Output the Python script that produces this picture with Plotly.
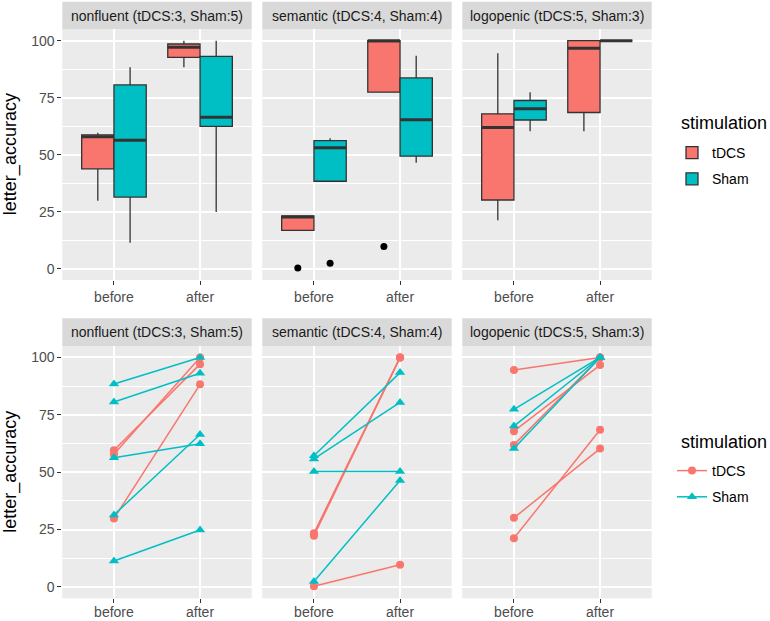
import numpy as np
import plotly.graph_objects as go

# ---------------------------------------------------------------------------
# Data (letter accuracy per patient, before / after stimulation)
# ---------------------------------------------------------------------------
conditions = ["before", "after"]
groups = ["tDCS", "Sham"]
panel_titles = [
    "nonfluent (tDCS:3, Sham:5)",
    "semantic (tDCS:4, Sham:4)",
    "logopenic (tDCS:5, Sham:3)",
]

nonfluent_tdcs_before = [59.6, 57.8, 29.8]
nonfluent_tdcs_after = [97.1, 100.0, 88.3]
nonfluent_sham_before = [88.4, 80.6, 56.3, 31.4, 11.3]
nonfluent_sham_after = [100.0, 93.1, 62.4, 66.4, 24.8]

semantic_tdcs_before = [23.4, 23.0, 22.3, 0.3]
semantic_tdcs_after = [100.0, 100.0, 100.0, 9.7]
semantic_sham_before = [57.2, 55.8, 50.3, 2.4]
semantic_sham_after = [93.4, 80.4, 50.3, 46.4]

logopenic_tdcs_before = [94.5, 67.9, 61.9, 30.1, 21.2]
logopenic_tdcs_after = [100.0, 96.7, 100.0, 60.3, 68.5]
logopenic_sham_before = [77.4, 70.1, 60.3]
logopenic_sham_after = [100.0, 100.0, 100.0]

panels = [
    {"tDCS": (nonfluent_tdcs_before, nonfluent_tdcs_after),
     "Sham": (nonfluent_sham_before, nonfluent_sham_after)},
    {"tDCS": (semantic_tdcs_before, semantic_tdcs_after),
     "Sham": (semantic_sham_before, semantic_sham_after)},
    {"tDCS": (logopenic_tdcs_before, logopenic_tdcs_after),
     "Sham": (logopenic_sham_before, logopenic_sham_after)},
]

COLORS = {"tDCS": "#F8766D", "Sham": "#00BFC4"}
SYMBOLS = {"tDCS": "circle", "Sham": "triangle-up"}
DODGE = {"tDCS": -0.1875, "Sham": 0.1875}
BOX_W = 0.375
FONT = "Liberation Sans, Arial, sans-serif"

W, H = 770, 621
col_px = [(62.3, 251.7), (262.3, 451.7), (462.3, 651.7)]
row_px = [(29.3, 280.0), (346.0, 598.4)]
strip_px = [(1.7, 29.3), (318.3, 346.0)]
legend_title_px = [123, 442]
legend_top_px = [137, 455]


def box_stats(vals):
    """ggplot-style (type 7) box statistics, whiskers clipped to the box."""
    v = np.asarray(vals, dtype=float)
    q1, med, q3 = np.percentile(v, [25, 50, 75])
    iqr = q3 - q1
    lo_f, hi_f = q1 - 1.5 * iqr, q3 + 1.5 * iqr
    inside = v[(v >= lo_f) & (v <= hi_f)]
    out = v[(v < lo_f) | (v > hi_f)]
    return q1, med, q3, min(inside.min(), q1), max(inside.max(), q3), out


fig = go.Figure()

# ---------------------------------------------------------------------------
# Top row: box plots
# ---------------------------------------------------------------------------
for c, panel in enumerate(panels):
    ax = "" if c == 0 else str(c + 1)
    for g in groups:
        xs, q1s, meds, q3s, los, his = [], [], [], [], [], []
        out_x, out_y = [], []
        med_x, med_y = [], []
        for i, vals in enumerate(panel[g]):
            pos = i + 1 + DODGE[g]
            q1, med, q3, lo, hi, out = box_stats(vals)
            xs.append(pos); q1s.append(q1); meds.append(med)
            q3s.append(q3); los.append(lo); his.append(hi)
            out_x += [pos] * len(out)
            out_y += list(out)
            med_x += [pos - BOX_W / 2, pos + BOX_W / 2, None]
            med_y += [med, med, None]
        fig.add_trace(go.Box(
            x=xs, q1=q1s, median=meds, q3=q3s, lowerfence=los, upperfence=his,
            width=BOX_W, whiskerwidth=0,
            fillcolor=COLORS[g], line=dict(color="#333333", width=1.3),
            name=g, legendgroup=g, legend="legend", showlegend=(c == 0),
            xaxis="x" + ax, yaxis="y" + ax,
        ))
        fig.add_trace(go.Scatter(
            x=med_x, y=med_y, mode="lines", line=dict(color="#333333", width=3),
            showlegend=False, hoverinfo="skip", xaxis="x" + ax, yaxis="y" + ax,
        ))
        if out_y:
            fig.add_trace(go.Scatter(
                x=out_x, y=out_y, mode="markers",
                marker=dict(color="black", size=7),
                showlegend=False, xaxis="x" + ax, yaxis="y" + ax,
            ))

# ---------------------------------------------------------------------------
# Bottom row: paired before/after lines
# ---------------------------------------------------------------------------
for c, panel in enumerate(panels):
    ax = str(c + 4)
    for g in groups:
        before, after = panel[g]
        lx, ly = [], []
        for b, a in zip(before, after):
            lx += [1, 2, None]
            ly += [b, a, None]
        fig.add_trace(go.Scatter(
            x=lx, y=ly, mode="lines+markers",
            line=dict(color=COLORS[g], width=1.5),
            marker=dict(color=COLORS[g], symbol=SYMBOLS[g],
                        size=8 if g == "tDCS" else 9),
            name=g, legendgroup=g + "2", legend="legend2", showlegend=(c == 0),
            xaxis="x" + ax, yaxis="y" + ax,
        ))

# ---------------------------------------------------------------------------
# Axes, strips, labels
# ---------------------------------------------------------------------------
layout = {}
annotations = []
shapes = []
for k in range(6):
    r, c = divmod(k, 3)
    sfx = "" if k == 0 else str(k + 1)
    x0, x1 = col_px[c]
    y0, y1 = row_px[r]
    layout["xaxis" + sfx] = dict(
        domain=[x0 / W, x1 / W], anchor="y" + sfx, range=[0.4, 2.6],
        tickvals=[1, 2], ticktext=conditions, automargin=False,
        showgrid=True, gridcolor="white", gridwidth=1.6, zeroline=False,
        ticks="outside", ticklen=4, tickcolor="#333333", tickwidth=1.2,
        ticklabelstandoff=0 if r == 0 else -3,
        tickfont=dict(size=14, color="#4D4D4D"), showline=False,
    )
    layout["yaxis" + sfx] = dict(
        domain=[1 - y1 / H, 1 - y0 / H], anchor="x" + sfx, range=[-5, 105],
        tickvals=[0, 25, 50, 75, 100], showticklabels=(c == 0), automargin=False,
        ticks="outside" if c == 0 else "", ticklen=4, tickcolor="#333333", tickwidth=1.2,
        tickfont=dict(size=14, color="#4D4D4D"),
        showgrid=True, gridcolor="white", gridwidth=1.6, zeroline=False,
        minor=dict(tickvals=[12.5, 37.5, 62.5, 87.5], showgrid=True,
                   gridcolor="white", gridwidth=0.8, ticks=""),
    )
    s0, s1 = strip_px[r]
    shapes.append(dict(type="rect", xref="paper", yref="paper",
                       x0=x0 / W, x1=x1 / W, y0=1 - s1 / H, y1=1 - s0 / H,
                       fillcolor="#D9D9D9", line=dict(width=0), layer="below"))
    annotations.append(dict(text=panel_titles[c], xref="paper", yref="paper",
                            x=(x0 + x1) / 2 / W, y=1 - (s0 + s1) / 2 / H,
                            xanchor="center", yanchor="middle", showarrow=False,
                            font=dict(size=14, color="#1A1A1A")))

for r in range(2):
    y0, y1 = row_px[r]
    annotations.append(dict(text="letter_accuracy", xref="paper", yref="paper",
                            x=10.5 / W, y=1 - (y0 + y1) / 2 / H, textangle=-90,
                            xanchor="center", yanchor="middle", showarrow=False,
                            font=dict(size=18, color="black")))
    # legend titles drawn separately so the key spacing can follow ggplot
    annotations.append(dict(text="stimulation", xref="paper", yref="paper",
                            x=679 / W, y=1 - legend_title_px[r] / H,
                            xanchor="left", yanchor="middle", showarrow=False,
                            font=dict(size=18, color="black")))

legend_base = dict(
    x=672 / W, xanchor="left", yanchor="top",
    bgcolor="rgba(0,0,0,0)", font=dict(size=14, color="black"),
    itemwidth=30, tracegroupgap=5,
)

fig.update_layout(
    width=W, height=H,
    margin=dict(l=0, r=0, t=0, b=0, autoexpand=False),
    paper_bgcolor="white", plot_bgcolor="#EBEBEB",
    font=dict(family=FONT, color="#4D4D4D"),
    boxmode="overlay",
    legend=dict(legend_base, y=1 - legend_top_px[0] / H),
    legend2=dict(legend_base, y=1 - legend_top_px[1] / H),
    annotations=annotations, shapes=shapes,
    **layout,
)

# the page's default body margin would push the figure off the window
fig.write_html("out.html", config={"displayModeBar": False},
               post_script="document.body.style.margin='0';")
